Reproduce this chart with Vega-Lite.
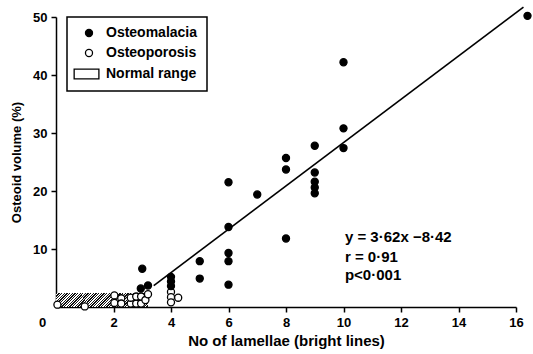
{
  "$schema": "https://vega.github.io/schema/vega-lite/v6.json",
  "width": 460,
  "height": 290,
  "autosize": "none",
  "padding": {"left": 56, "top": 17, "right": 17, "bottom": 47},
  "background": "white",
  "config": {
    "font": "Liberation Sans",
    "view": {"stroke": null},
    "axis": {"grid": false, "domainColor": "black", "domainWidth": 1.5, "tickColor": "black", "tickWidth": 1.5, "tickSize": 5, "labelColor": "black", "labelFontSize": 13, "labelFontWeight": "bold", "titleColor": "black", "titleFontWeight": "bold"}
  },
  "datasets": {
    "normal": [{"x": 0, "xe": 3.2, "y": 0, "ye": 2.4}],
    "fit": [{"x": 3.4, "y": 3.7}, {"x": 16.26, "y": 51.7}],
    "pts": [
      {"x": 0.05, "y": 0.4, "group": "Osteoporosis"},
      {"x": 1.0, "y": 0.1, "group": "Osteoporosis"},
      {"x": 2.03, "y": 2.0, "group": "Osteoporosis"},
      {"x": 2.27, "y": 1.5, "group": "Osteoporosis"},
      {"x": 2.03, "y": 0.7, "group": "Osteoporosis"},
      {"x": 2.27, "y": 0.6, "group": "Osteoporosis"},
      {"x": 2.6, "y": 0.6, "group": "Osteoporosis"},
      {"x": 2.79, "y": 0.6, "group": "Osteoporosis"},
      {"x": 2.96, "y": 0.6, "group": "Osteoporosis"},
      {"x": 2.6, "y": 1.6, "group": "Osteoporosis"},
      {"x": 2.79, "y": 1.8, "group": "Osteoporosis"},
      {"x": 2.96, "y": 1.8, "group": "Osteoporosis"},
      {"x": 3.11, "y": 1.2, "group": "Osteoporosis"},
      {"x": 3.2, "y": 2.2, "group": "Osteoporosis"},
      {"x": 4.0, "y": 2.6, "group": "Osteoporosis"},
      {"x": 4.0, "y": 1.7, "group": "Osteoporosis"},
      {"x": 4.0, "y": 0.8, "group": "Osteoporosis"},
      {"x": 4.25, "y": 1.6, "group": "Osteoporosis"},
      {"x": 3.0, "y": 6.6, "group": "Osteomalacia"},
      {"x": 2.95, "y": 3.2, "group": "Osteomalacia"},
      {"x": 3.2, "y": 3.7, "group": "Osteomalacia"},
      {"x": 4.0, "y": 5.2, "group": "Osteomalacia"},
      {"x": 4.0, "y": 4.4, "group": "Osteomalacia"},
      {"x": 4.0, "y": 3.6, "group": "Osteomalacia"},
      {"x": 5.0, "y": 7.9, "group": "Osteomalacia"},
      {"x": 5.0, "y": 4.9, "group": "Osteomalacia"},
      {"x": 6.0, "y": 21.5, "group": "Osteomalacia"},
      {"x": 6.0, "y": 13.8, "group": "Osteomalacia"},
      {"x": 6.0, "y": 9.3, "group": "Osteomalacia"},
      {"x": 6.0, "y": 7.9, "group": "Osteomalacia"},
      {"x": 6.0, "y": 3.85, "group": "Osteomalacia"},
      {"x": 7.0, "y": 19.4, "group": "Osteomalacia"},
      {"x": 8.0, "y": 25.7, "group": "Osteomalacia"},
      {"x": 8.0, "y": 23.7, "group": "Osteomalacia"},
      {"x": 8.0, "y": 11.8, "group": "Osteomalacia"},
      {"x": 9.0, "y": 27.8, "group": "Osteomalacia"},
      {"x": 9.0, "y": 23.2, "group": "Osteomalacia"},
      {"x": 9.0, "y": 21.6, "group": "Osteomalacia"},
      {"x": 9.0, "y": 20.6, "group": "Osteomalacia"},
      {"x": 9.0, "y": 19.6, "group": "Osteomalacia"},
      {"x": 10.0, "y": 42.2, "group": "Osteomalacia"},
      {"x": 10.0, "y": 30.8, "group": "Osteomalacia"},
      {"x": 10.0, "y": 27.4, "group": "Osteomalacia"},
      {"x": 16.4, "y": 50.2, "group": "Osteomalacia"}
    ],
    "notes": [
      {"x": 10.05, "y": 12.1, "label": "y = 3·62x −8·42"},
      {"x": 10.05, "y": 8.7, "label": "r = 0·91"},
      {"x": 10.05, "y": 5.5, "label": "p<0·001"}
    ]
  },
  "encoding": {
    "x": {
      "field": "x", "type": "quantitative",
      "scale": {"domain": [0, 16], "nice": false, "zero": false},
      "axis": {
        "values": [0, 2, 4, 6, 8, 10, 12, 14, 16],
        "title": "No of lamellae (bright lines)",
        "titleFontSize": 15, "titlePadding": 4, "labelPadding": 4, "labelFlush": false,
        "tickOpacity": {"condition": {"test": "datum.value === 0", "value": 0}, "value": 1},
        "labelOffset": {"condition": {"test": "datum.value === 0", "value": -14}, "value": 0}
      }
    },
    "y": {
      "field": "y", "type": "quantitative",
      "scale": {"domain": [0, 50], "nice": false, "zero": false},
      "axis": {
        "values": [10, 20, 30, 40, 50],
        "title": "Osteoid volume (%)",
        "titleFontSize": 13, "titlePadding": 9, "labelPadding": 4
      }
    }
  },
  "layer": [
    {
      "data": {"name": "normal"},
      "mark": {
        "type": "rect",
        "fill": {
          "gradient": "linear", "x1": 0, "y1": 0, "x2": 1.13, "y2": 0.17,
          "stops": [
            {"offset": 0, "color": "#111"}, {"offset": 0.0125, "color": "#111"}, {"offset": 0.0125, "color": "#fff"}, {"offset": 0.025, "color": "#fff"},
            {"offset": 0.025, "color": "#111"}, {"offset": 0.0375, "color": "#111"}, {"offset": 0.0375, "color": "#fff"}, {"offset": 0.05, "color": "#fff"},
            {"offset": 0.05, "color": "#111"}, {"offset": 0.0625, "color": "#111"}, {"offset": 0.0625, "color": "#fff"}, {"offset": 0.075, "color": "#fff"},
            {"offset": 0.075, "color": "#111"}, {"offset": 0.0875, "color": "#111"}, {"offset": 0.0875, "color": "#fff"}, {"offset": 0.1, "color": "#fff"},
            {"offset": 0.1, "color": "#111"}, {"offset": 0.1125, "color": "#111"}, {"offset": 0.1125, "color": "#fff"}, {"offset": 0.125, "color": "#fff"},
            {"offset": 0.125, "color": "#111"}, {"offset": 0.1375, "color": "#111"}, {"offset": 0.1375, "color": "#fff"}, {"offset": 0.15, "color": "#fff"},
            {"offset": 0.15, "color": "#111"}, {"offset": 0.1625, "color": "#111"}, {"offset": 0.1625, "color": "#fff"}, {"offset": 0.175, "color": "#fff"},
            {"offset": 0.175, "color": "#111"}, {"offset": 0.1875, "color": "#111"}, {"offset": 0.1875, "color": "#fff"}, {"offset": 0.2, "color": "#fff"},
            {"offset": 0.2, "color": "#111"}, {"offset": 0.2125, "color": "#111"}, {"offset": 0.2125, "color": "#fff"}, {"offset": 0.225, "color": "#fff"},
            {"offset": 0.225, "color": "#111"}, {"offset": 0.2375, "color": "#111"}, {"offset": 0.2375, "color": "#fff"}, {"offset": 0.25, "color": "#fff"},
            {"offset": 0.25, "color": "#111"}, {"offset": 0.2625, "color": "#111"}, {"offset": 0.2625, "color": "#fff"}, {"offset": 0.275, "color": "#fff"},
            {"offset": 0.275, "color": "#111"}, {"offset": 0.2875, "color": "#111"}, {"offset": 0.2875, "color": "#fff"}, {"offset": 0.3, "color": "#fff"},
            {"offset": 0.3, "color": "#111"}, {"offset": 0.3125, "color": "#111"}, {"offset": 0.3125, "color": "#fff"}, {"offset": 0.325, "color": "#fff"},
            {"offset": 0.325, "color": "#111"}, {"offset": 0.3375, "color": "#111"}, {"offset": 0.3375, "color": "#fff"}, {"offset": 0.35, "color": "#fff"},
            {"offset": 0.35, "color": "#111"}, {"offset": 0.3625, "color": "#111"}, {"offset": 0.3625, "color": "#fff"}, {"offset": 0.375, "color": "#fff"},
            {"offset": 0.375, "color": "#111"}, {"offset": 0.3875, "color": "#111"}, {"offset": 0.3875, "color": "#fff"}, {"offset": 0.4, "color": "#fff"},
            {"offset": 0.4, "color": "#111"}, {"offset": 0.4125, "color": "#111"}, {"offset": 0.4125, "color": "#fff"}, {"offset": 0.425, "color": "#fff"},
            {"offset": 0.425, "color": "#111"}, {"offset": 0.4375, "color": "#111"}, {"offset": 0.4375, "color": "#fff"}, {"offset": 0.45, "color": "#fff"},
            {"offset": 0.45, "color": "#111"}, {"offset": 0.4625, "color": "#111"}, {"offset": 0.4625, "color": "#fff"}, {"offset": 0.475, "color": "#fff"},
            {"offset": 0.475, "color": "#111"}, {"offset": 0.4875, "color": "#111"}, {"offset": 0.4875, "color": "#fff"}, {"offset": 0.5, "color": "#fff"},
            {"offset": 0.5, "color": "#111"}, {"offset": 0.5125, "color": "#111"}, {"offset": 0.5125, "color": "#fff"}, {"offset": 0.525, "color": "#fff"},
            {"offset": 0.525, "color": "#111"}, {"offset": 0.5375, "color": "#111"}, {"offset": 0.5375, "color": "#fff"}, {"offset": 0.55, "color": "#fff"},
            {"offset": 0.55, "color": "#111"}, {"offset": 0.5625, "color": "#111"}, {"offset": 0.5625, "color": "#fff"}, {"offset": 0.575, "color": "#fff"},
            {"offset": 0.575, "color": "#111"}, {"offset": 0.5875, "color": "#111"}, {"offset": 0.5875, "color": "#fff"}, {"offset": 0.6, "color": "#fff"},
            {"offset": 0.6, "color": "#111"}, {"offset": 0.6125, "color": "#111"}, {"offset": 0.6125, "color": "#fff"}, {"offset": 0.625, "color": "#fff"},
            {"offset": 0.625, "color": "#111"}, {"offset": 0.6375, "color": "#111"}, {"offset": 0.6375, "color": "#fff"}, {"offset": 0.65, "color": "#fff"},
            {"offset": 0.65, "color": "#111"}, {"offset": 0.6625, "color": "#111"}, {"offset": 0.6625, "color": "#fff"}, {"offset": 0.675, "color": "#fff"},
            {"offset": 0.675, "color": "#111"}, {"offset": 0.6875, "color": "#111"}, {"offset": 0.6875, "color": "#fff"}, {"offset": 0.7, "color": "#fff"},
            {"offset": 0.7, "color": "#111"}, {"offset": 0.7125, "color": "#111"}, {"offset": 0.7125, "color": "#fff"}, {"offset": 0.725, "color": "#fff"},
            {"offset": 0.725, "color": "#111"}, {"offset": 0.7375, "color": "#111"}, {"offset": 0.7375, "color": "#fff"}, {"offset": 0.75, "color": "#fff"},
            {"offset": 0.75, "color": "#111"}, {"offset": 0.7625, "color": "#111"}, {"offset": 0.7625, "color": "#fff"}, {"offset": 0.775, "color": "#fff"},
            {"offset": 0.775, "color": "#111"}, {"offset": 0.7875, "color": "#111"}, {"offset": 0.7875, "color": "#fff"}, {"offset": 0.8, "color": "#fff"},
            {"offset": 0.8, "color": "#111"}, {"offset": 0.8125, "color": "#111"}, {"offset": 0.8125, "color": "#fff"}, {"offset": 0.825, "color": "#fff"},
            {"offset": 0.825, "color": "#111"}, {"offset": 0.8375, "color": "#111"}, {"offset": 0.8375, "color": "#fff"}, {"offset": 0.85, "color": "#fff"},
            {"offset": 0.85, "color": "#111"}, {"offset": 0.8625, "color": "#111"}, {"offset": 0.8625, "color": "#fff"}, {"offset": 0.875, "color": "#fff"},
            {"offset": 0.875, "color": "#111"}, {"offset": 0.8875, "color": "#111"}, {"offset": 0.8875, "color": "#fff"}, {"offset": 0.9, "color": "#fff"},
            {"offset": 0.9, "color": "#111"}, {"offset": 0.9125, "color": "#111"}, {"offset": 0.9125, "color": "#fff"}, {"offset": 0.925, "color": "#fff"},
            {"offset": 0.925, "color": "#111"}, {"offset": 0.9375, "color": "#111"}, {"offset": 0.9375, "color": "#fff"}, {"offset": 0.95, "color": "#fff"},
            {"offset": 0.95, "color": "#111"}, {"offset": 0.9625, "color": "#111"}, {"offset": 0.9625, "color": "#fff"}, {"offset": 0.975, "color": "#fff"},
            {"offset": 0.975, "color": "#111"}, {"offset": 0.9875, "color": "#111"}, {"offset": 0.9875, "color": "#fff"}, {"offset": 1, "color": "#fff"}
          ]
        }
      },
      "encoding": {
        "x2": {"field": "xe"},
        "y2": {"field": "ye"}
      }
    },
    {
      "data": {"name": "fit"},
      "mark": {"type": "line", "color": "black", "strokeWidth": 1.6},
      "encoding": {}
    },
    {
      "data": {"name": "pts"},
      "mark": {"type": "point", "filled": true, "stroke": "black", "strokeWidth": 1.3, "size": 50, "opacity": 1, "fillOpacity": 1},
      "encoding": {
        "shape": {
          "field": "group", "type": "nominal",
          "scale": {"domain": ["Osteomalacia", "Osteoporosis", "Normal range"], "range": ["circle", "circle", "M-4.2,-1.4H2.8V1.4H-4.2Z"]},
          "legend": {
            "title": null, "orient": "none", "legendX": 11, "legendY": 0,
            "strokeColor": "black", "padding": 9,
            "labelFontSize": 14, "labelFontWeight": "bold", "labelColor": "black", "symbolSize": 50, "rowPadding": 6,
            "symbolOffset": 6, "labelOffset": 10,
            "symbolStrokeColor": "black", "symbolStrokeWidth": 1.3,
            "encoding": {
              "legend": {"strokeWidth": {"value": 1.5}},
              "symbols": {
                "fill": {
                  "condition": [
                    {"test": "datum.value === 'Osteomalacia'", "value": "black"},
                    {"test": "datum.value === 'Normal range'", "value": {
                      "gradient": "linear", "x1": 0, "y1": 0, "x2": 1.2, "y2": 0.48,
                      "stops": [
                        {"offset": 0, "color": "#111"}, {"offset": 0.042, "color": "#111"}, {"offset": 0.042, "color": "#fff"}, {"offset": 0.0833, "color": "#fff"},
                        {"offset": 0.0833, "color": "#111"}, {"offset": 0.125, "color": "#111"}, {"offset": 0.125, "color": "#fff"}, {"offset": 0.1667, "color": "#fff"},
                        {"offset": 0.1667, "color": "#111"}, {"offset": 0.2083, "color": "#111"}, {"offset": 0.2083, "color": "#fff"}, {"offset": 0.25, "color": "#fff"},
                        {"offset": 0.25, "color": "#111"}, {"offset": 0.2917, "color": "#111"}, {"offset": 0.2917, "color": "#fff"}, {"offset": 0.3333, "color": "#fff"},
                        {"offset": 0.3333, "color": "#111"}, {"offset": 0.375, "color": "#111"}, {"offset": 0.375, "color": "#fff"}, {"offset": 0.4167, "color": "#fff"},
                        {"offset": 0.4167, "color": "#111"}, {"offset": 0.4583, "color": "#111"}, {"offset": 0.4583, "color": "#fff"}, {"offset": 0.5, "color": "#fff"},
                        {"offset": 0.5, "color": "#111"}, {"offset": 0.5417, "color": "#111"}, {"offset": 0.5417, "color": "#fff"}, {"offset": 0.5833, "color": "#fff"},
                        {"offset": 0.5833, "color": "#111"}, {"offset": 0.625, "color": "#111"}, {"offset": 0.625, "color": "#fff"}, {"offset": 0.6667, "color": "#fff"},
                        {"offset": 0.6667, "color": "#111"}, {"offset": 0.7083, "color": "#111"}, {"offset": 0.7083, "color": "#fff"}, {"offset": 0.75, "color": "#fff"},
                        {"offset": 0.75, "color": "#111"}, {"offset": 0.7917, "color": "#111"}, {"offset": 0.7917, "color": "#fff"}, {"offset": 0.8333, "color": "#fff"},
                        {"offset": 0.8333, "color": "#111"}, {"offset": 0.875, "color": "#111"}, {"offset": 0.875, "color": "#fff"}, {"offset": 0.9167, "color": "#fff"},
                        {"offset": 0.9167, "color": "#111"}, {"offset": 0.9583, "color": "#111"}, {"offset": 0.9583, "color": "#fff"}, {"offset": 1, "color": "#fff"}
                      ]
                    }}
                  ],
                  "value": "white"
                },
                "stroke": {"value": "black"},
                "strokeWidth": {"value": 1.3},
                "opacity": {"value": 1}
              }
            }
          }
        },
        "fill": {
          "field": "group", "type": "nominal",
          "scale": {"domain": ["Osteomalacia", "Osteoporosis", "Normal range"], "range": ["black", "white", "white"]},
          "legend": null
        }
      }
    },
    {
      "data": {"name": "notes"},
      "mark": {"type": "text", "align": "left", "baseline": "middle", "fontSize": 15, "fontWeight": "bold", "color": "black"},
      "encoding": {"text": {"field": "label"}}
    }
  ]
}
